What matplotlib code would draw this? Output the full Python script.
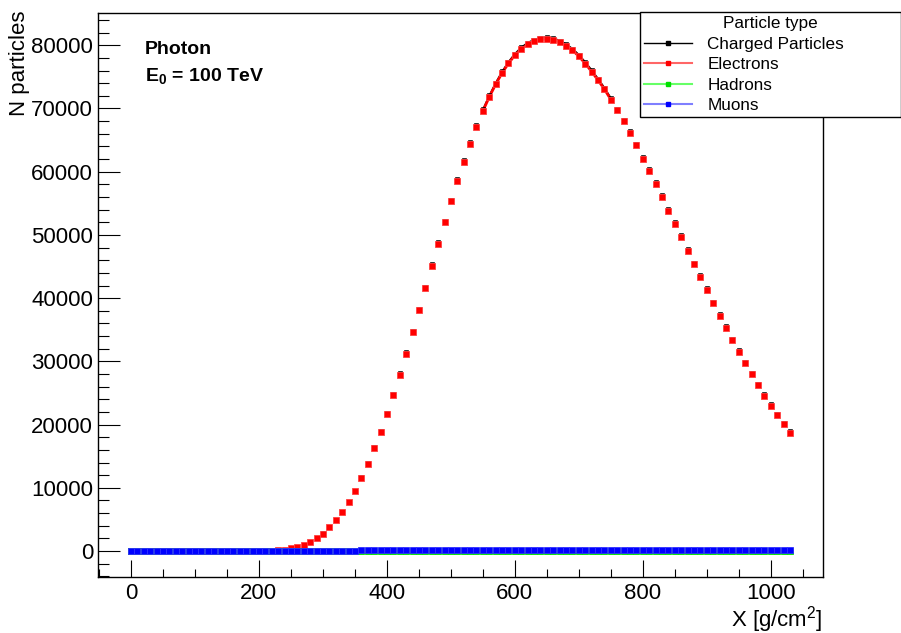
import numpy as np
import matplotlib
matplotlib.use('Agg')
import matplotlib.pyplot as plt
from matplotlib.lines import Line2D
from matplotlib.ticker import MultipleLocator

plt.rcParams['font.family'] = ['Liberation Sans', 'DejaVu Sans']
plt.rcParams['mathtext.fontset'] = 'custom'
plt.rcParams['mathtext.rm'] = 'Liberation Sans'
plt.rcParams['mathtext.bf'] = 'Liberation Sans:bold'

# slant depth, g/cm^2
depth = np.arange(0, 1040, 10)

electrons = [0] * 20 + [
    30, 50, 80, 150, 210, 420, 630, 1000, 1420, 2000,
    2740, 3740, 4900, 6170, 7750, 9490, 11490, 13800, 16240, 18860,
    21700, 24700, 27870, 31190, 34620, 38100, 41580, 45110, 48590, 52020,
    55340, 58550, 61560, 64460, 67080, 69610, 71830, 73830, 75620, 77150,
    78420, 79420, 80160, 80630, 80950, 81000, 80900, 80470, 79950, 79210,
    78260, 77100, 75840, 74470, 73040, 71410, 69720, 67980, 66140, 64190,
    62080, 60130, 58020, 55970, 53800, 51700, 49640, 47480, 45330, 43320,
    41260, 39160, 37200, 35260, 33310, 31460, 29670, 27940, 26200, 24560,
    22980, 21460, 20030, 18660]

muons = [0] * 20 + [
    2, 4, 6, 8, 10, 14, 18, 22, 26, 30,
    35, 40, 45, 50, 55, 60, 130, 150, 160, 165,
    175, 180, 185, 190, 195] + [200] * 5 + [210] * 10 + [220] * 20 + [225] * 24

hadrons = [0] * 25 + [
    2, 4, 6, 8, 10, 12, 15, 18, 20, 22,
    25, 28, 30, 32, 35, 38, 40, 42, 44] + [45] * 20 + [50] * 40

electrons = np.array(electrons)
muons = np.array(muons)
hadrons = np.array(hadrons)
charged = electrons + muons + hadrons

fig = plt.figure(figsize=(9.01, 6.33), dpi=100)
ax = fig.add_axes([98 / 901, 56 / 633, 725 / 901, 564 / 633])

# line segment only drawn around the maximum
seg = (depth >= 550) & (depth <= 750)
ax.plot(depth[seg], charged[seg], color='black', lw=1.0)
ax.plot(depth[seg], electrons[seg], color='red', lw=2)

ms = 3.7
ax.plot(depth, charged, 's', color='black', ms=2.4, mew=0.4)
ax.plot(depth, electrons, 's', color='red', ms=ms, mew=0.6, mec='#ff4040')
ax.plot(depth, hadrons, 's', color='#00e000', ms=ms, mew=0.6)
ax.plot(depth, muons, 's', color='blue', ms=ms, mew=0.6, mec='#3030ff')

ax.set_xlim(-51.5, 1081.5)
ax.set_ylim(-4100, 85100)
ax.xaxis.set_major_locator(MultipleLocator(200))
ax.xaxis.set_minor_locator(MultipleLocator(50))
ax.yaxis.set_major_locator(MultipleLocator(10000))
ax.yaxis.set_minor_locator(MultipleLocator(2000))
ax.tick_params(which='both', direction='in', top=False, right=False,
               width=0.8, labelsize=16)
ax.tick_params(axis='x', which='major', length=12.2, pad=4.5)
ax.tick_params(axis='x', which='minor', length=6.1)
ax.tick_params(axis='y', which='major', length=15.8, pad=3.6)
ax.tick_params(axis='y', which='minor', length=7.9)
for sp in ax.spines.values():
    sp.set_linewidth(1.0)

ax.set_xlabel('X [g/cm$^{2}$]', fontsize=16, loc='right')
ax.xaxis.set_label_coords(1.0, -0.087)
ax.xaxis.label.set_va('baseline')
ax.set_ylabel('N particles', fontsize=16, loc='top')
ax.yaxis.set_label_coords(-0.1086, 1.005)
ax.yaxis.label.set_va('center')

fig.text(145 / 901, 1 - 50 / 633, 'Photon', fontsize=14, fontweight='bold',
         va='center')
fig.text(145 / 901, 1 - 76 / 633, r'$\mathbf{E_{0}}$ = 100 TeV', fontsize=14,
         fontweight='bold', va='center')

handles = [
    Line2D([], [], color='black', marker='s', ms=2.6, lw=1),
    Line2D([], [], color=(1, 0, 0, 0.6), marker='s', mfc='red', mec='red', ms=3.2, lw=1.5),
    Line2D([], [], color=(0, 1, 0, 0.6), marker='s', mfc='#00e000', mec='#00e000', ms=3.2, lw=1.5),
    Line2D([], [], color=(0, 0, 1, 0.5), marker='s', mfc='blue', mec='blue', ms=3.2, lw=1.5),
]
labels = ['Charged Particles', 'Electrons', 'Hadrons', 'Muons']
leg = fig.legend(handles, labels, title='Particle type', loc='upper left',
                 bbox_to_anchor=(640 / 901, 1 - 118 / 633, 261 / 901, 106 / 633),
                 mode='expand', borderaxespad=0, fontsize=12.3, title_fontsize=12.3,
                 fancybox=False, shadow=False, framealpha=1, edgecolor='black',
                 handlelength=2.8, handletextpad=0.9, labelspacing=0.32, borderpad=0.25)
leg.get_frame().set_linewidth(1.0)

fig.savefig('out.png', dpi=100)
